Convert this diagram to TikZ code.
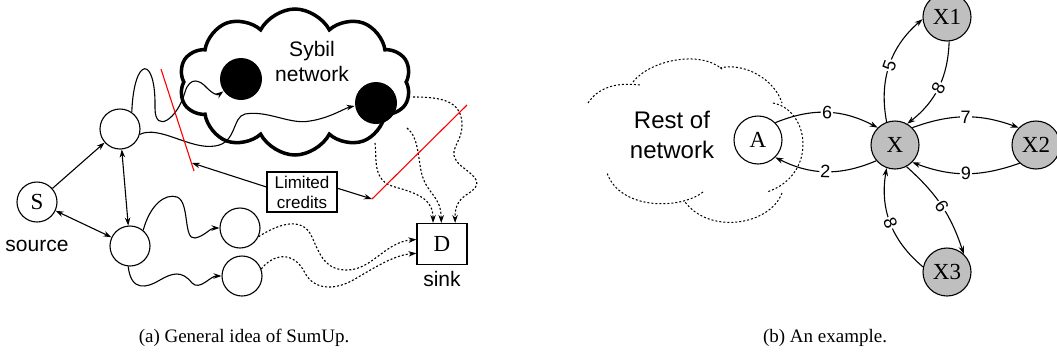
\documentclass[tikz,border=0pt]{standalone}
\usepackage{fontspec}
\setmainfont{Liberation Sans}
\newfontfamily\timesfont{Liberation Serif}
\usepackage{tikz}
\usetikzlibrary{shapes.symbols, arrows.meta, positioning}

\begin{document}
\begin{tikzpicture}[x=1pt, y=-1pt, >={Stealth[length=8pt,width=5.5pt]}, line width=1.1pt]
    \tikzstyle{peer} = [circle, draw, fill=white, minimum size=40pt, inner sep=0pt, font=\fontsize{23}{25}\selectfont\timesfont]
    \tikzstyle{sybilpeer} = [circle, fill=black, minimum size=42pt, inner sep=0pt]
    \tikzstyle{hub} = [circle, draw, fill=black!25, minimum size=48pt, inner sep=0pt, font=\fontsize{23}{25}\selectfont\timesfont]
    \tikzstyle{sinkbox} = [rectangle, draw, fill=white, minimum width=50pt, minimum height=41pt, inner sep=0pt, font=\fontsize{23}{25}\selectfont\timesfont]
    \tikzstyle{note} = [rectangle, draw, fill=white, minimum width=70pt, minimum height=40pt, inner sep=0pt, align=center, font=\fontsize{17}{20}\selectfont]
    \tikzstyle{lbl} = [fill=white, inner sep=1pt, sloped, font=\fontsize{18}{18}\selectfont]
    \tikzstyle{flow} = [->, dash pattern=on 2pt off 2pt]
    \tikzstyle{cut} = [red, line width=1.1pt]
    \tikzstyle{caption} = [font=\fontsize{19}{21}\selectfont\timesfont]

    \useasboundingbox (0,0) rectangle (1057,354);

    % (a) Sybil cloud
    \node [cloud, draw, line width=3.5pt, fill=white, cloud puffs=10, cloud puff arc=125, aspect=1.6, cloud ignores aspect, minimum width=232pt, minimum height=146pt] (sybil) at (295,82) {};
    \node [align=center, font=\fontsize{21}{25}\selectfont] (sybiltxt) at (312,61) {Sybil\\network};
    \node [sybilpeer] (b1) at (241,79) {};
    \node [sybilpeer] (b2) at (376,103) {};

    % (a) Honest nodes
    \node [peer] (s) at (37,202) {S};
    \node [below=17pt of s, inner sep=0pt, font=\fontsize{21}{21}\selectfont] (srclbl) {source};
    \node [peer] (n1) at (120,129) {};
    \node [peer] (n2) at (130,246) {};
    \node [peer] (n3) at (240,228) {};
    \node [peer] (n4) at (242,276) {};
    \node [sinkbox] (d) at (442,244) {D};
    \node [below=6pt of d, inner sep=0pt, font=\fontsize{21}{21}\selectfont] (sinklbl) {sink};
    \node [note] (lim) at (302,192) {Limited\\credits};

    % (a) Cut points
    \coordinate (r1a) at (161,69);
    \coordinate (r1b) at (194,171);
    \coordinate (r1t) at (192,163);
    \coordinate (r2a) at (467,105);
    \coordinate (r2b) at (372,199);
    \coordinate (c1) at (375,143);
    \coordinate (c2) at (407,128);
    \coordinate (c3) at (413,97);

    % (a) Links
    \draw [->] (s) -- (n1);
    \draw [<->] (s) -- (n2);
    \draw [<->] (n1) -- (n2);
    \draw [->] (n1.55) .. controls (134,55) and (156,55) .. (155,108) .. controls (155,135) and (178,118) .. (185,92) .. controls (190,76) and (200,80) .. (207,88) .. controls (212,93) and (217,96) .. (b1.215);
    \draw [->] (n1.-15) .. controls (160,125) and (190,150) .. (215,146) .. controls (237,143) and (232,117) .. (245,114) .. controls (268,110) and (290,125) .. (310,121) .. controls (330,118) and (345,108) .. (b2.188);
    \draw [->] (n2.50) .. controls (150,205) and (165,193) .. (177,197) .. controls (190,202) and (183,240) .. (195,238) .. controls (205,236) and (210,228) .. (n3.west);
    \draw [->] (n2.-95) .. controls (131,292) and (147,288) .. (160,280) .. controls (172,273) and (182,270) .. (192,283) .. controls (200,291) and (210,276) .. (n4.west);

    % (a) Flows into the sink
    \draw [flow] (n3.-25) .. controls (275,226) and (302,214) .. (312,237) .. controls (320,255) and (325,270) .. (347,270) .. controls (372,270) and (385,242) .. (d.170);
    \draw [flow] (n4.20) .. controls (272,255) and (293,249) .. (305,273) .. controls (314,290) and (335,291) .. (355,279) .. controls (377,266) and (395,255) .. (d.200);
    \draw [flow] (c1) .. controls (377,160) and (372,181) .. (395,187) .. controls (420,194) and (433,200) .. (d.113);
    \draw [flow] (c2) .. controls (419,137) and (418,160) .. (422,175) .. controls (428,195) and (441,196) .. (d.92);
    \draw [flow] (c3) .. controls (440,97) and (462,100) .. (462,125) .. controls (462,145) and (445,150) .. (460,165) .. controls (475,177) and (486,183) .. (466,195) .. controls (456,202) and (455,210) .. (d.58);

    % (a) Limited credits
    \draw [cut] (r1a) -- (r1b);
    \draw [cut] (r2a) -- (r2b);
    \draw [->] (lim.172) -- (r1t);
    \draw [->] (lim.6) -- (r2b);

    % (b) Rest of network
    \draw [dash pattern=on 2pt off 2pt, line width=1pt] (588,103) .. controls (598,88) and (615,82) .. (640,85);
    \draw [dash pattern=on 2pt off 2pt, line width=1pt] (633,82) .. controls (650,60) and (700,50) .. (722,69);
    \draw [dash pattern=on 2pt off 2pt, line width=1pt] (720,68) .. controls (745,62) and (775,80) .. (782,103);
    \draw [dash pattern=on 2pt off 2pt, line width=1pt] (773,103) .. controls (810,110) and (818,175) .. (767,192);
    \draw [dash pattern=on 2pt off 2pt, line width=1pt] (782,193) .. controls (770,225) and (710,235) .. (685,202);
    \draw [dash pattern=on 2pt off 2pt, line width=1pt] (703,192) .. controls (680,210) and (620,210) .. (607,173);
    \node [align=center, font=\fontsize{24}{30}\selectfont] (rest) at (672,135) {Rest of\\network};

    % (b) Example nodes
    \node [peer, minimum size=48pt] (a) at (758,140) {A};
    \node [hub] (x) at (895,145) {X};
    \node [hub] (x1) at (947,17) {X1};
    \node [hub] (x2) at (1036,145) {X2};
    \node [hub] (x3) at (947,272) {X3};

    % (b) Credits
    \draw [->] (a.45) to[bend left=25] node[lbl] {6} (x.135);
    \draw [->] (x.220) to[bend left=25] node[lbl] {2} (a.-45);
    \draw [->] (x.110) to[bend left=30] node[lbl] {5} (x1.185);
    \draw [->] (x1.-85) to[bend left=25] node[lbl] {8} (x.60);
    \draw [->] (x.45) to[bend left=20] node[lbl] {7} (x2.135);
    \draw [->] (x2.228) to[bend left=20] node[lbl] {9} (x.-45);
    \draw [->] (x.-62) to[bend left=15] node[lbl] {6} (x3.47);
    \draw [->] (x3.168) to[bend left=30] node[lbl] {8} (x.-110);

    % Captions
    \node [caption] (capa) at (244,338) {(a) General idea of SumUp.};
    \node [caption] (capb) at (825,338) {(b) An example.};
\end{tikzpicture}
\end{document}
